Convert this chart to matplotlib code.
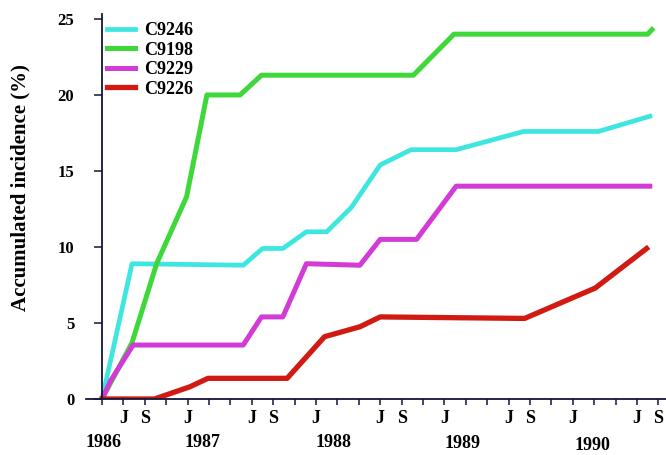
import matplotlib
matplotlib.use("Agg")
import matplotlib.pyplot as plt
import matplotlib.transforms as mtransforms

# x = months since May 1986
c9246_x = [0, 2.8, 13.2, 15.0, 16.9, 19.1, 21.0, 23.3, 26.0, 28.9, 33.1, 39.4, 46.4, 51.2]
c9246_y = [0, 8.9, 8.8, 9.9, 9.9, 11.0, 11.0, 12.6, 15.4, 16.4, 16.4, 17.6, 17.6, 18.6]

c9198_x = [0, 2.8, 5.1, 7.9, 9.8, 12.9, 14.9, 29.1, 32.9, 51.0, 51.4]
c9198_y = [0, 3.7, 8.9, 13.3, 20.0, 20.0, 21.3, 21.3, 24.0, 24.0, 24.3]

c9229_x = [0, 0.8, 2.9, 13.2, 14.9, 16.9, 19.1, 24.1, 26.0, 29.4, 33.1, 51.2]
c9229_y = [0, 1.2, 3.55, 3.55, 5.4, 5.4, 8.9, 8.8, 10.5, 10.5, 14.0, 14.0]

c9226_x = [0, 4.9, 8.2, 9.9, 17.3, 20.8, 24.1, 26.0, 39.5, 46.1, 50.9]
c9226_y = [0, 0, 0.8, 1.36, 1.36, 4.1, 4.75, 5.4, 5.3, 7.3, 9.9]

series = [
    ("C9246", c9246_x, c9246_y, "#3ee6e0", 3.4),
    ("C9198", c9198_x, c9198_y, "#3fd83a", 3.6),
    ("C9229", c9229_x, c9229_y, "#d23bd6", 3.6),
    ("C9226", c9226_x, c9226_y, "#d01a12", 3.8),
]

shown_months = {0: "J", 6: "J", 8: "S"}  # Jan, Jul, Sep
years = ["1986", "1987", "1988", "1989", "1990"]
year_pos = [0.1, 9.4, 21.6, 33.7, 45.8]
year_y = [-0.114, -0.112, -0.114, -0.116, -0.12]

plt.rcParams["font.family"] = ["Liberation Serif", "DejaVu Serif"]
plt.rcParams["font.weight"] = "bold"

fig = plt.figure(figsize=(6.66, 4.55), dpi=100)
ax = fig.add_axes([86 / 666, 56 / 455, 582 / 666, 384.6 / 455])

for name, xs, ys, col, lw in series:
    ax.plot(xs, ys, color=col, lw=lw, label=name, solid_joinstyle="round")

ax.set_xlim(-1.5, 52.9)
ax.set_ylim(0, 25.3)

axcol = "#15153a"
for s in ["top", "right"]:
    ax.spines[s].set_visible(False)
ax.spines["left"].set_position(("data", 0))
ax.spines["left"].set_color(axcol)
ax.spines["bottom"].set_color(axcol)
ax.spines["left"].set_linewidth(1.3)
ax.spines["bottom"].set_linewidth(1.3)

ax.set_yticks([0, 5, 10, 15, 20, 25])
ax.set_yticklabels(["0", "5", "10", "15", "20", "25"], fontsize=12, fontweight="bold")

ticks = list(range(0, 53, 2))
labels = [shown_months.get((4 + m) % 12, "") for m in ticks]
ax.set_xticks(ticks)
ax.set_xticklabels(labels, fontsize=13, fontweight="bold")
ax.tick_params(axis="x", length=4, width=1.1, color=axcol, pad=4)
ax.tick_params(axis="y", length=6, width=1.1, color=axcol, pad=14)

trans = mtransforms.blended_transform_factory(ax.transData, ax.transAxes)
for yr, xp, yy in zip(years, year_pos, year_y):
    ax.text(xp, yy, yr, transform=trans, ha="center", va="center",
            fontsize=13, fontweight="bold")

ax.set_ylabel("Accumulated incidence (%)", fontsize=15, fontweight="bold")
ax.yaxis.set_label_coords(-0.096, 0.549)

leg = ax.legend(loc="upper left", bbox_to_anchor=(0.0076, 1.022), frameon=False,
                handlelength=1.55, handletextpad=0.5, labelspacing=0.135,
                prop={"family": "Liberation Serif", "weight": "bold", "size": 13})

fig.savefig("out.png", dpi=100)
